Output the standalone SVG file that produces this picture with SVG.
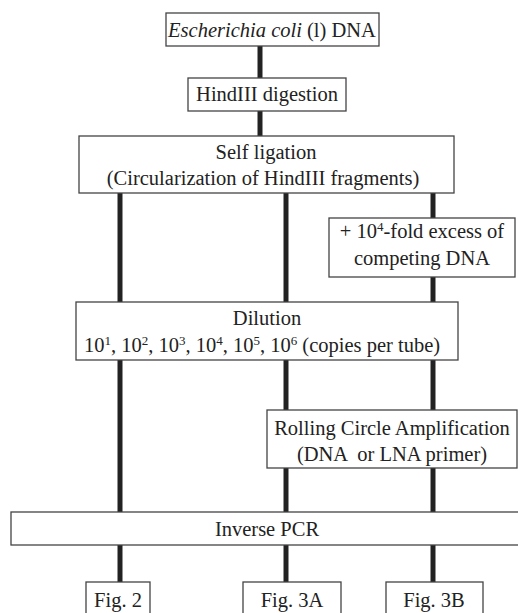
<svg xmlns="http://www.w3.org/2000/svg" width="518" height="613" viewBox="0 0 518 613" font-family="'Liberation Serif', 'Times New Roman', Tinos, 'DejaVu Serif', serif">
<style>
.box{fill:#fff;stroke:#444;stroke-width:1.3}
text{font-family:'Liberation Serif','Times New Roman',Tinos,'DejaVu Serif',serif;font-size:20.5px;fill:#222;text-anchor:middle}
.s{font-size:13px}
.c{stroke:#222;stroke-width:5;fill:none}
</style>
<rect width="518" height="613" fill="#fff"/>
<g id="connectors">
<line class="c" x1="260" y1="46" x2="260" y2="78"/>
<line class="c" x1="260" y1="111" x2="260" y2="136"/>
<line class="c" x1="120" y1="193" x2="120" y2="302"/>
<line class="c" x1="120" y1="360" x2="120" y2="512"/>
<line class="c" x1="120" y1="545" x2="120" y2="582"/>
<line class="c" x1="286" y1="193" x2="286" y2="302"/>
<line class="c" x1="286" y1="360" x2="286" y2="410"/>
<line class="c" x1="286" y1="468" x2="286" y2="512"/>
<line class="c" x1="286" y1="545" x2="286" y2="582"/>
<line class="c" x1="433" y1="193" x2="433" y2="218"/>
<line class="c" x1="433" y1="277" x2="433" y2="302"/>
<line class="c" x1="433" y1="360" x2="433" y2="410"/>
<line class="c" x1="433" y1="468" x2="433" y2="512"/>
<line class="c" x1="433" y1="545" x2="433" y2="582"/>
</g>
<g id="ecoli">
<rect class="box" x="166" y="13" width="213" height="33"/>
<text x="272" y="37"><tspan font-style="italic">Escherichia coli</tspan> (l) DNA</text>
</g>
<g id="hindiii">
<rect class="box" x="188" y="78" width="158" height="33"/>
<text x="267" y="101">HindIII digestion</text>
</g>
<g id="selfligation">
<rect class="box" x="79" y="136" width="375" height="57"/>
<text x="266" y="159">Self ligation</text>
<text x="263" y="185">(Circularization of HindIII fragments)</text>
</g>
<g id="competing">
<rect class="box" x="329" y="218" width="186" height="59"/>
<text x="422" y="238">+ 10<tspan class="s" dy="-7">4</tspan><tspan dy="7">-fold excess of</tspan></text>
<text x="422" y="265">competing DNA</text>
</g>
<g id="dilution">
<rect class="box" x="76" y="302" width="382" height="58"/>
<text x="267" y="325">Dilution</text>
<text x="262" y="352">10<tspan class="s" dy="-7">1</tspan><tspan dy="7">, 10</tspan><tspan class="s" dy="-7">2</tspan><tspan dy="7">, 10</tspan><tspan class="s" dy="-7">3</tspan><tspan dy="7">, 10</tspan><tspan class="s" dy="-7">4</tspan><tspan dy="7">, 10</tspan><tspan class="s" dy="-7">5</tspan><tspan dy="7">, 10</tspan><tspan class="s" dy="-7">6</tspan><tspan dy="7"> (copies per tube)</tspan></text>
</g>
<g id="rca">
<rect class="box" x="267" y="410" width="250" height="58"/>
<text x="392" y="435">Rolling Circle Amplification</text>
<text x="392" y="461" xml:space="preserve">(DNA  or LNA primer)</text>
</g>
<g id="inversepcr">
<rect class="box" x="11" y="512" width="515" height="33"/>
<text x="267" y="536">Inverse PCR</text>
</g>
<g id="fig2">
<rect class="box" x="86" y="582" width="64" height="40"/>
<text x="118" y="607">Fig. 2</text>
</g>
<g id="fig3a">
<rect class="box" x="243" y="582" width="98" height="40"/>
<text x="292" y="607">Fig. 3A</text>
</g>
<g id="fig3b">
<rect class="box" x="386" y="582" width="97" height="40"/>
<text x="434" y="607">Fig. 3B</text>
</g>
</svg>
